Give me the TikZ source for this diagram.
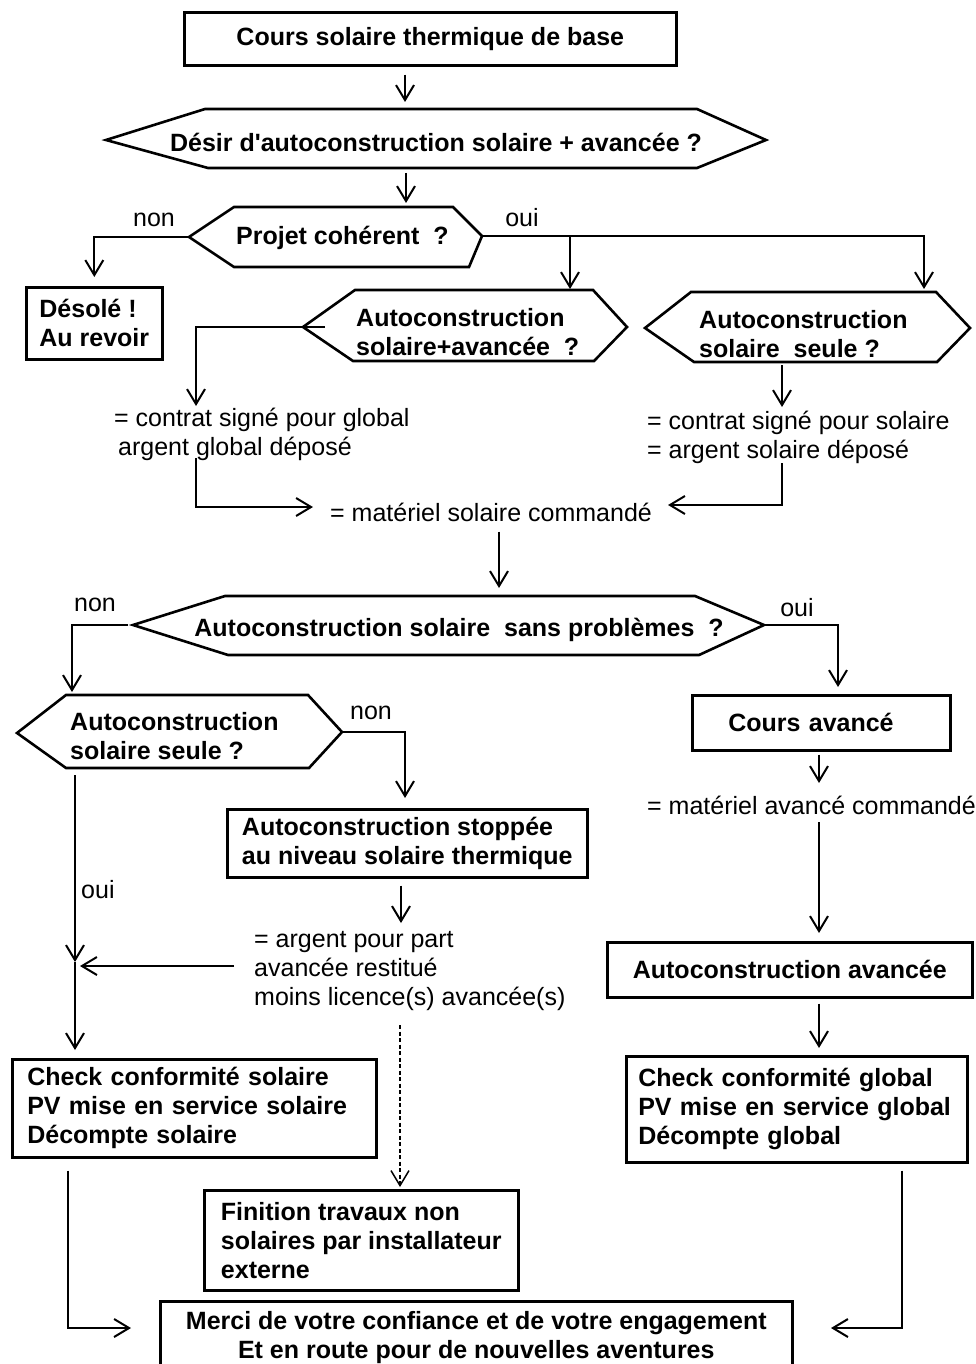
\documentclass[tikz,border=0pt]{standalone}
\usepackage{fontspec}
\setmainfont{Liberation Sans}
\usetikzlibrary{arrows.meta}

\begin{document}
\begin{tikzpicture}[x=1pt, y=-1pt, font=\fontsize{25}{29}\selectfont,
    box/.style={draw, line width=2.6pt, font=\fontsize{25}{29}\selectfont\bfseries, anchor=north west, inner ysep=0pt},
    hexa/.style={line width=2.6pt, line join=miter},
    qtext/.style={font=\fontsize{25}{29}\selectfont\bfseries, inner sep=0pt, align=left},
    lbl/.style={inner sep=0pt, align=left},
    arr/.style={line width=2pt, -{Straight Barb[length=15pt, width=18pt]}}]
  \useasboundingbox (0,0) rectangle (975,1364);

  \node[box, minimum width=492pt, minimum height=53pt, align=center] (cours) at (183,11) {Cours solaire thermique de base};
  \node[box, minimum width=136pt, minimum height=72pt, align=left] (desole) at (25,286) {Désolé !\\Au revoir};
  \node[box, minimum width=258pt, minimum height=55pt, inner xsep=36pt, text width=186pt, align=left] (avance) at (691,694) {Cours avancé};
  \node[box, minimum width=360pt, minimum height=68pt, align=left] (stop) at (226,808) {Autoconstruction stoppée\\au niveau solaire thermique};
  \node[box, minimum width=365pt, minimum height=55pt, align=center] (acav) at (606,941) {Autoconstruction avancée};
  \node[box, minimum width=341pt, minimum height=106pt, inner xsep=12pt, text width=317pt, align=left] (glob) at (625,1055) {Check conformité global\\PV mise en service global\\Décompte global};
  \node[box, minimum width=364pt, minimum height=98pt, inner xsep=15pt, text width=334pt, align=left] (sol) at (11,1058) {Check conformité solaire\\PV mise en service solaire\\Décompte solaire};
  \node[box, minimum width=314pt, minimum height=100pt, align=left] (fin) at (203,1189) {Finition travaux non\\solaires par installateur\\externe};
  \node[box, minimum width=632pt, minimum height=72pt, align=center] (merci) at (159,1300) {Merci de votre confiance et de votre engagement\\Et en route pour de nouvelles aventures};

  \draw[hexa] (106,140) -- (205,109) -- (697,109) -- (766,140) -- (697,168) -- (208,168) -- cycle;
  \draw[hexa] (189,237) coordinate (projW) -- (234,207) -- (453,207) -- (482,236) coordinate (projE) -- (469,267) -- (234,267) -- cycle;
  \draw[hexa] (303,327) coordinate (mixW) -- (355,290) -- (593,290) -- (627,327) -- (594,361) -- (353,361) -- cycle;
  \draw[hexa] (645,328) -- (691,292) -- (936,292) -- (970,328) -- (937,362) -- (694,362) -- cycle;
  \draw[hexa] (133,625) coordinate (probW) -- (225,596) -- (695,596) -- (764,625) coordinate (probE) -- (699,655) -- (228,655) -- cycle;
  \draw[hexa] (17,733) -- (66,695) -- (308,695) -- (342,732) coordinate (seule2E) -- (309,768) -- (66,768) -- cycle;

  \node[qtext] (desirT) at (436,142) {Désir d\textquotesingle autoconstruction solaire + avancée ?};
  \node[qtext, anchor=west] (projT) at (236,238) {Projet cohérent\ \ ?};
  \node[qtext, anchor=west] (mixT) at (356,332) {Autoconstruction\\solaire+avancée\ \ ?};
  \node[qtext, anchor=west] (seuleT) at (699,334) {Autoconstruction\\solaire\ \ seule ?};
  \node[qtext] (probT) at (459,630) {Autoconstruction solaire\ \ sans problèmes\ \ ?};
  \node[qtext, anchor=west] (seule2T) at (70,736) {Autoconstruction\\solaire seule ?};

  \node[lbl] (non1) at (154,220) {non};
  \node[lbl] (oui1) at (522,218) {oui};
  \node[lbl, anchor=west] (txtG) at (114,434) {= contrat signé pour global\\\hspace*{4pt}argent global déposé};
  \node[lbl, anchor=west] (txtS) at (647,437) {= contrat signé pour solaire\\= argent solaire déposé};
  \node[lbl, anchor=west] (matS) at (330,512) {= matériel solaire commandé};
  \node[lbl] (non2) at (95,605) {non};
  \node[lbl] (oui2) at (797,608) {oui};
  \node[lbl] (non3) at (371,713) {non};
  \node[lbl, anchor=west] (matA) at (647,805) {= matériel avancé commandé};
  \node[lbl, anchor=west] (oui3) at (81,890) {oui};
  \node[lbl, anchor=west] (txtR) at (254,971) {= argent pour part\\avancée restitué\\moins licence(s) avancée(s)};

  \coordinate (desirN) at (405,109);
  \coordinate (desirS) at (406,168);
  \coordinate (projN) at (406,207);
  \coordinate (seuleN) at (924,292);
  \coordinate (mixN) at (570,290);
  \coordinate (gA) at (196,406);
  \coordinate (gB) at (196,458);
  \coordinate (mA) at (313,507);
  \coordinate (seuleS) at (782,365);
  \coordinate (sA) at (782,407);
  \coordinate (sB) at (782,463);
  \coordinate (mB) at (668,505);
  \coordinate (probN) at (499,596);
  \coordinate (seule2N) at (72,695);
  \coordinate (avN) at (838,694);
  \coordinate (stopN) at (405,808);
  \coordinate (aA) at (819,783);
  \coordinate (aB) at (819,822);
  \coordinate (gC) at (902,1328);
  \coordinate (mE) at (831,1328);
  \coordinate (seule2S) at (75,768);
  \coordinate (jct) at (75,962);
  \coordinate (rA) at (234,966);
  \coordinate (rB) at (80,966);
  \coordinate (rC) at (400,1025);
  \coordinate (rD) at (401,923);
  \coordinate (sC) at (68,1328);
  \coordinate (mW) at (131,1328);

  \draw[arr, shorten <=8pt, shorten >=7pt] (cours.south -| desirN) -- (desirN);
  \draw[arr, shorten <=5pt, shorten >=4pt] (desirS) -- (projN);
  \draw[arr, shorten >=9pt] (projW) -| (desole.north);
  \draw[arr, shorten >=3pt] (projE) -| (seuleN);
  \draw[arr, shorten >=1pt] (projE -| mixN) -- (mixN);
  \draw[arr] ([xshift=22pt]mixW) -| (gA);
  \draw[arr] (gB) |- (mA);
  \draw[arr] (seuleS) -- (sA);
  \draw[arr] (sB) |- (mB);
  \draw[arr, shorten <=10pt, shorten >=8pt] (matS.south -| probN) -- (probN);
  \draw[arr, shorten >=3pt] ([xshift=-5pt]probW) -| (seule2N);
  \draw[arr, shorten >=7pt] (probE) -| (avN);
  \draw[arr, shorten >=10pt] (seule2E) -| (stopN);
  \draw[arr, shorten <=3pt] (avance.south -| aA) -- (aA);
  \draw[arr, shorten >=8pt] (aB) -- (aB |- acav.north);
  \draw[arr, shorten <=5pt, shorten >=7pt] (acav.south -| aB) -- (glob.north -| aB);
  \draw[arr, shorten <=7pt] (glob.south -| gC) -- (gC) -- (mE);
  \draw[arr, shorten <=7pt] (seule2S) -- (jct);
  \draw[arr, shorten >=8pt] (jct) -- (sol.north -| jct);
  \draw[arr, shorten <=7pt] (stop.south -| rD) -- (rD);
  \draw[arr] (rA) -- (rB);
  \draw[arr, line width=1.5pt, dash pattern=on 4pt off 2.5pt, shorten >=2pt] (rC) -- (rC |- fin.north);
  \draw[arr, shorten <=12pt] (sol.south -| sC) -- (sC) -- (mW);
\end{tikzpicture}
\end{document}
